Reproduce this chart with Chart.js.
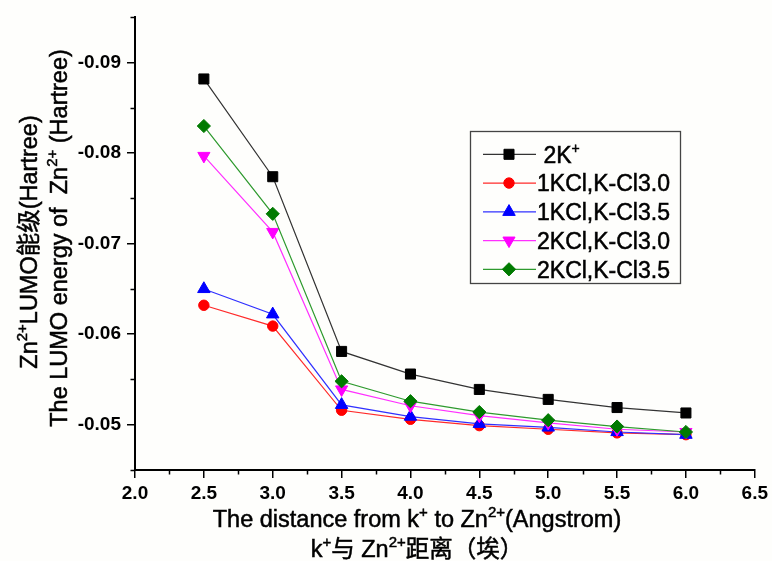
<!DOCTYPE html>
<html>
<head>
<meta charset="utf-8">
<script src="https://cdn.jsdelivr.net/npm/chart.js@4.4.0/dist/chart.umd.min.js"></script>
<style>
  html, body { margin: 0; padding: 0; background: #fefefc; }
  #wrap { width: 772px; height: 561px; }
</style>
</head>
<body>
<div id="wrap"><canvas id="lumoChart" width="772" height="561"></canvas></div>
<script>
// ============ DATA ============
const distances = [2.5, 3.0, 3.5, 4.0, 4.5, 5.0, 5.5, 6.0];

const k2Plus    = [-0.0882, -0.0774, -0.0581, -0.0556, -0.0539, -0.0528, -0.0519, -0.0513];
const kcl1Cl30  = [-0.0632, -0.0609, -0.0516, -0.0506, -0.0499, -0.0495, -0.0491, -0.0489];
const kcl1Cl35  = [-0.0650, -0.0622, -0.0522, -0.0509, -0.0501, -0.0497, -0.0492, -0.0489];
const kcl2Cl30  = [-0.0797, -0.0713, -0.0539, -0.0521, -0.0510, -0.0502, -0.0495, -0.0492];
const kcl2Cl35  = [-0.0830, -0.0733, -0.0548, -0.0526, -0.0514, -0.0505, -0.0498, -0.0492];

const xTicks = [2.0, 2.5, 3.0, 3.5, 4.0, 4.5, 5.0, 5.5, 6.0, 6.5];
const yTicks = [-0.09, -0.08, -0.07, -0.06, -0.05];
const xMinorTicks = [2.25, 2.75, 3.25, 3.75, 4.25, 4.75, 5.25, 5.75, 6.25];
const yMinorTicks = [-0.095, -0.085, -0.075, -0.065, -0.055, -0.045];

// legend labels as rich-text segments (sup = superscript)
const seriesLabels = [
  [{ t: " 2K" }, { t: "+", sup: true }],
  [{ t: "1KCl,K-Cl3.0" }],
  [{ t: "1KCl,K-Cl3.5" }],
  [{ t: "2KCl,K-Cl3.0" }],
  [{ t: "2KCl,K-Cl3.5" }]
];

const yTitle1 = [{ t: "Zn" }, { t: "2+", sup: true }, { t: "LUMO能级(Hartree)" }];
const yTitle2 = [{ t: "The LUMO energy of  Zn" }, { t: "2+", sup: true }, { t: " (Hartree)" }];
const xTitle1 = [{ t: "The distance from k" }, { t: "+", sup: true }, { t: " to Zn" }, { t: "2+", sup: true }, { t: "(Angstrom)" }];
const xTitle2 = [{ t: "k" }, { t: "+", sup: true }, { t: "与 Zn" }, { t: "2+", sup: true }, { t: "距离（埃）" }];

// ============ STYLE ============
const FAMILY = '"Liberation Sans", Arial, "Noto Sans CJK SC", sans-serif';
const BG = "#fefefc";

function toPoints(ys) {
  return distances.map((x, i) => ({ x, y: ys[i] }));
}

function series(values, color, lineColor, style, radius, order, rotation) {
  return {
    data: toPoints(values),
    borderColor: lineColor,
    backgroundColor: color,
    borderWidth: 1.2,
    pointStyle: style,
    pointRadius: radius,
    pointRotation: rotation || 0,
    pointBackgroundColor: color,
    pointBorderColor: color,
    pointBorderWidth: 1,
    tension: 0,
    order
  };
}

// ============ TEXT HELPERS ============
function segFont(seg, size) {
  return (seg.sup ? Math.round(size * 0.62) : size) + "px " + FAMILY;
}

function richWidth(ctx, segs, size) {
  let w = 0;
  segs.forEach(s => { ctx.font = segFont(s, size); w += ctx.measureText(s.t).width; });
  return w;
}

// draws segments starting at x (left) on baseline y, slightly stroked for weight
function drawRich(ctx, segs, x, y, size) {
  ctx.textAlign = "left";
  ctx.textBaseline = "alphabetic";
  ctx.strokeStyle = ctx.fillStyle;
  ctx.lineWidth = 0.5;
  segs.forEach(s => {
    ctx.font = segFont(s, size);
    const ty = s.sup ? y - size * 0.42 : y;
    ctx.fillText(s.t, x, ty);
    ctx.strokeText(s.t, x, ty);
    x += ctx.measureText(s.t).width;
  });
}

function drawRichCentered(ctx, segs, cx, y, size) {
  drawRich(ctx, segs, cx - richWidth(ctx, segs, size) / 2, y, size);
}

// ============ PLUGINS ============
const background = {
  id: "background",
  beforeDraw(chart) {
    const ctx = chart.ctx;
    ctx.save();
    ctx.fillStyle = BG;
    ctx.fillRect(0, 0, chart.width, chart.height);
    ctx.restore();
  }
};

const minorTicks = {
  id: "minorTicks",
  afterDraw(chart) {
    const { ctx, chartArea, scales } = chart;
    ctx.save();
    ctx.strokeStyle = "#000";
    ctx.lineWidth = 1.5;
    ctx.beginPath();
    yMinorTicks.forEach(v => {
      const py = Math.round(scales.y.getPixelForValue(v)) + 0.5;
      ctx.moveTo(chartArea.left, py);
      ctx.lineTo(chartArea.left - 4.5, py);
    });
    xMinorTicks.forEach(v => {
      const px = Math.round(scales.x.getPixelForValue(v)) + 0.5;
      ctx.moveTo(px, chartArea.bottom);
      ctx.lineTo(px, chartArea.bottom + 4.5);
    });
    ctx.stroke();
    ctx.restore();
  }
};

const axisTitles = {
  id: "axisTitles",
  afterDraw(chart) {
    const ctx = chart.ctx;
    ctx.save();
    ctx.fillStyle = "#000";
    drawRichCentered(ctx, xTitle1, 417, 527, 23.5);
    drawRichCentered(ctx, xTitle2, 417, 557, 23.5);

    ctx.translate(37, 242);
    ctx.rotate(-Math.PI / 2);
    drawRichCentered(ctx, yTitle1, 0, 0, 23.5);
    ctx.restore();

    ctx.save();
    ctx.fillStyle = "#000";
    ctx.translate(67, 238);
    ctx.rotate(-Math.PI / 2);
    drawRichCentered(ctx, yTitle2, 0, 0, 23.5);
    ctx.restore();
  }
};

const boxLegend = {
  id: "boxLegend",
  afterDraw(chart) {
    const ctx = chart.ctx;
    ctx.save();
    ctx.strokeStyle = "#444";
    ctx.lineWidth = 1.3;
    ctx.strokeRect(470.5, 131.5, 210, 152);

    chart.data.datasets.forEach((ds, i) => {
      const cy = 154.3 + i * 28.75;
      ctx.strokeStyle = ds.borderColor;
      ctx.lineWidth = 1.2;
      ctx.beginPath();
      ctx.moveTo(483, cy);
      ctx.lineTo(536, cy);
      ctx.stroke();

      ctx.fillStyle = ds.pointBackgroundColor;
      ctx.strokeStyle = ds.pointBorderColor;
      ctx.lineWidth = 1;
      Chart.helpers.drawPoint(ctx, {
        pointStyle: ds.pointStyle,
        radius: ds.pointRadius,
        rotation: ds.pointRotation,
        borderWidth: 1
      }, 509, cy);

      ctx.fillStyle = "#000";
      drawRich(ctx, seriesLabels[i], 537, cy + 8.3, 23);
    });
    ctx.restore();
  }
};

// ============ CHART ============
const tickFont = { family: FAMILY, size: 19, weight: "bold" };

new Chart(document.getElementById("lumoChart"), {
  type: "line",
  data: {
    datasets: [
      series(k2Plus,   "#000000", "#333333", "rect",     7.1, 5),
      series(kcl1Cl30, "#ff0000", "#ff2a2a", "circle",   5.2, 4),
      series(kcl1Cl35, "#0000ff", "#3030ff", "triangle", 7.2, 3),
      series(kcl2Cl30, "#ff00ff", "#ff30ff", "triangle", 7.0, 2, 180),
      series(kcl2Cl35, "#007a00", "#2e9a2e", "rectRot",  6.6, 1)
    ]
  },
  options: {
    responsive: false,
    devicePixelRatio: 1,
    animation: false,
    events: [],
    layout: { padding: { top: 14, right: 16, left: 0, bottom: 0 } },
    plugins: {
      legend: { display: false },
      tooltip: { enabled: false },
      title: { display: false }
    },
    scales: {
      x: {
        type: "linear",
        min: 2.0,
        max: 6.5,
        afterBuildTicks: scale => { scale.ticks = xTicks.map(v => ({ value: v })); },
        afterFit: scale => { scale.height = 91; },
        border: { display: true, color: "#000", width: 2 },
        grid: { display: true, drawOnChartArea: false, drawTicks: true, tickLength: 8, color: "#000", lineWidth: 1.5 },
        ticks: {
          color: "#000",
          font: tickFont,
          padding: 4,
          maxRotation: 0,
          autoSkip: false,
          callback: v => Number(v).toFixed(1)
        }
      },
      y: {
        type: "linear",
        reverse: true,
        min: -0.095,
        max: -0.045,
        afterBuildTicks: scale => { scale.ticks = yTicks.map(v => ({ value: v })); },
        afterFit: scale => { scale.width = 135; },
        border: { display: true, color: "#000", width: 2 },
        grid: { display: true, drawOnChartArea: false, drawTicks: true, tickLength: 8, color: "#000", lineWidth: 1.5 },
        ticks: {
          color: "#000",
          font: tickFont,
          padding: 6,
          autoSkip: false,
          callback: v => Number(v).toFixed(2)
        }
      }
    }
  },
  plugins: [background, minorTicks, axisTitles, boxLegend]
});
</script>
</body>
</html>
